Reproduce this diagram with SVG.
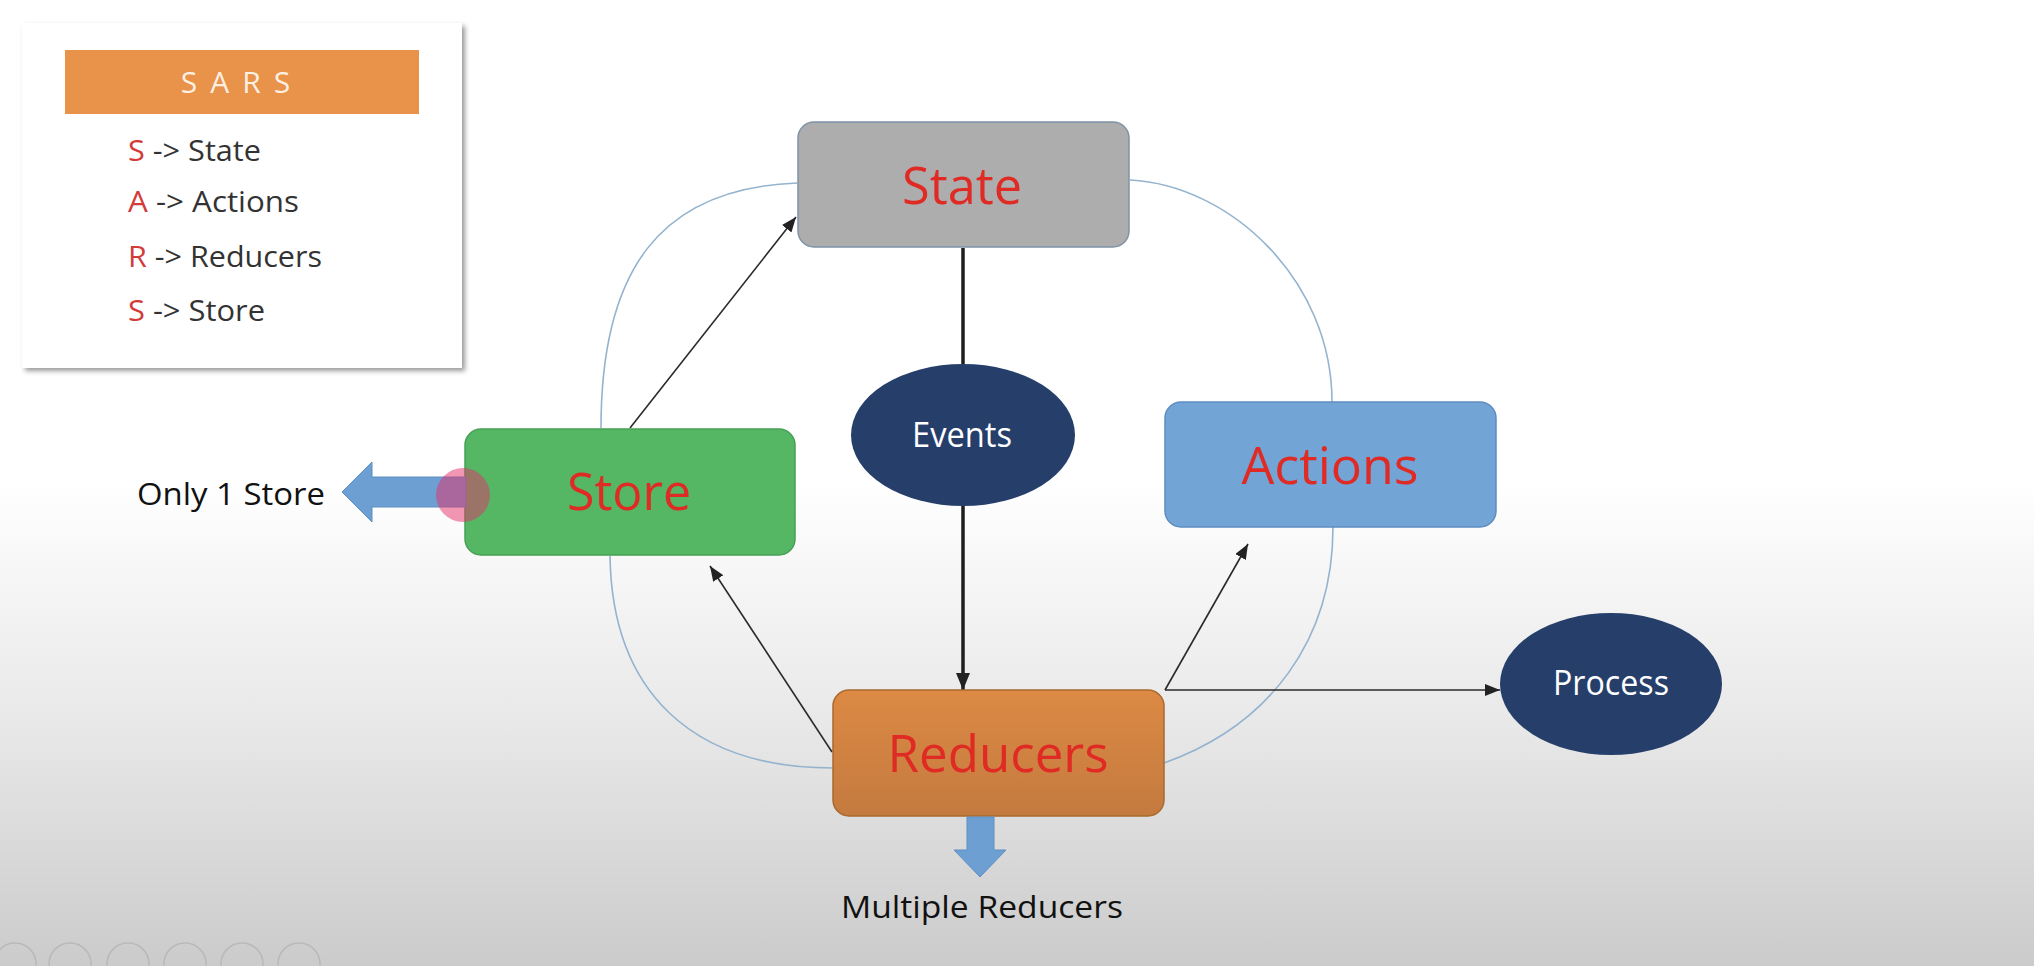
<svg xmlns="http://www.w3.org/2000/svg" width="2034" height="966" viewBox="0 0 2034 966">
  <defs>
    <linearGradient id="bg" x1="0" y1="0" x2="0" y2="1">
      <stop offset="0" stop-color="#ffffff"/>
      <stop offset="0.5" stop-color="#ffffff"/>
      <stop offset="0.75" stop-color="#e8e8e8"/>
      <stop offset="1" stop-color="#cbcbcb"/>
    </linearGradient>
    <linearGradient id="redGrad" x1="0" y1="0" x2="0" y2="1">
      <stop offset="0" stop-color="#dc8a44"/>
      <stop offset="1" stop-color="#c47a3f"/>
    </linearGradient>
    <filter id="shadow" x="-5%" y="-5%" width="115%" height="115%">
      <feDropShadow dx="3" dy="3" stdDeviation="2.5" flood-color="#000" flood-opacity="0.4"/>
    </filter>
    <marker id="arr" markerUnits="userSpaceOnUse" markerWidth="16" markerHeight="12" refX="15" refY="6" orient="auto">
      <path d="M0,0 L15,6 L0,12 z" fill="#222"/>
    </marker>
    <marker id="arrBig" markerUnits="userSpaceOnUse" markerWidth="18" markerHeight="14" refX="17" refY="7" orient="auto">
      <path d="M0,0 L17,7 L0,14 z" fill="#222"/>
    </marker>
    <style>
      .txt { font-family: "Open Sans", "Liberation Sans", sans-serif; }
      .big { font-size: 52px; fill: #e02a24; text-anchor: middle; }
      .ell { fill: #263e6a; }
      .ellTxt { font-size: 34px; fill: #ffffff; text-anchor: middle; }
      .lbl { font-size: 31px; fill: #111; }
      .leg { font-size: 29px; fill: #333; }
      .legL { fill: #d33a3a; }
      .arc { fill: none; stroke: #93b3cf; stroke-width: 1.6; }
      .thin { stroke: #2a2a2a; stroke-width: 1.6; fill: none; }
      .thick { stroke: #1e1e1e; stroke-width: 3.5; fill: none; }
      .block { fill: #6e9fd3; stroke: #5f8fc2; stroke-width: 1; }
    </style>
  </defs>

  <rect x="0" y="0" width="2034" height="966" fill="url(#bg)"/>

  <!-- slideshow controls (faint) -->
  <g id="controls" fill="none" stroke="#b9b9b9" stroke-width="1.5">
    <circle cx="15" cy="964" r="21"/>
    <circle cx="70" cy="964" r="21"/>
    <circle cx="128" cy="964" r="21"/>
    <circle cx="185" cy="964" r="21"/>
    <circle cx="242" cy="964" r="21"/>
    <circle cx="299" cy="964" r="21"/>
  </g>

  <!-- Legend -->
  <g id="legend">
    <rect x="22" y="23" width="440" height="345" fill="#ffffff" filter="url(#shadow)"/>
    <rect x="65" y="50" width="354" height="64" fill="#e8924a"/>
    <text class="txt" x="242" y="93" font-size="30" fill="#fdf0e2" text-anchor="middle" letter-spacing="13">SARS</text>
    <text class="txt leg" x="128" y="161" textLength="133" lengthAdjust="spacingAndGlyphs"><tspan class="legL">S</tspan> -&gt; State</text>
    <text class="txt leg" x="128" y="212" textLength="171" lengthAdjust="spacingAndGlyphs"><tspan class="legL">A</tspan> -&gt; Actions</text>
    <text class="txt leg" x="128" y="267" textLength="194" lengthAdjust="spacingAndGlyphs"><tspan class="legL">R</tspan> -&gt; Reducers</text>
    <text class="txt leg" x="128" y="321" textLength="137" lengthAdjust="spacingAndGlyphs"><tspan class="legL">S</tspan> -&gt; Store</text>
  </g>

  <!-- Cycle arcs and connectors -->
  <g id="connectors">
    <path class="arc" d="M797,183 C660,188 601,270 601,428"/>
    <path class="arc" d="M1130,180 C1230,185 1332,280 1332,402"/>
    <path class="arc" d="M610,556 C612,690 690,768 833,768"/>
    <path class="arc" d="M1333,527 C1333,640 1270,725 1164,763"/>

    <line class="thin" x1="630" y1="428" x2="796" y2="217" marker-end="url(#arr)"/>
    <line class="thin" x1="832" y1="752" x2="710" y2="566" marker-end="url(#arr)"/>
    <line class="thin" x1="1165" y1="690" x2="1248" y2="544" marker-end="url(#arr)"/>
    <line class="thin" x1="1165" y1="690" x2="1500" y2="690" marker-end="url(#arr)"/>
    <line class="thick" x1="963" y1="248" x2="963" y2="364"/>
    <line class="thick" x1="963" y1="505" x2="963" y2="690" marker-end="url(#arrBig)"/>
  </g>

  <!-- State -->
  <g id="state">
    <rect x="798" y="122" width="331" height="125" rx="16" fill="#adadad" stroke="#7f92a8" stroke-width="1.5"/>
    <text class="txt big" x="962" y="204" textLength="120" lengthAdjust="spacingAndGlyphs">State</text>
  </g>

  <!-- Events -->
  <g id="events">
    <ellipse class="ell" cx="963" cy="435" rx="112" ry="71"/>
    <text class="txt ellTxt" x="962" y="447" textLength="100" lengthAdjust="spacingAndGlyphs">Events</text>
  </g>

  <!-- Store -->
  <g id="store">
    <rect x="465" y="429" width="330" height="126" rx="16" fill="#55b664" stroke="#46a055" stroke-width="1.5"/>
    <text class="txt big" x="629" y="510" textLength="124" lengthAdjust="spacingAndGlyphs">Store</text>
  </g>

  <!-- Actions -->
  <g id="actions">
    <rect x="1165" y="402" width="331" height="125" rx="16" fill="#72a4d6" stroke="#5e8dbf" stroke-width="1.5"/>
    <text class="txt big" x="1330" y="484" textLength="177" lengthAdjust="spacingAndGlyphs">Actions</text>
  </g>

  <!-- Reducers -->
  <g id="reducers">
    <rect x="833" y="690" width="331" height="126" rx="16" fill="url(#redGrad)" stroke="#a9692f" stroke-width="1.5"/>
    <text class="txt big" x="998" y="772" textLength="221" lengthAdjust="spacingAndGlyphs">Reducers</text>
  </g>

  <!-- Process -->
  <g id="process">
    <ellipse class="ell" cx="1611" cy="684" rx="111" ry="71"/>
    <text class="txt ellTxt" x="1611" y="695" font-size="32" textLength="116" lengthAdjust="spacingAndGlyphs">Process</text>
  </g>

  <!-- Only 1 Store -->
  <g id="only-one-store">
    <polygon class="block" points="342,492 372,462 372,477 466,477 466,507 372,507 372,522"/>
    <text class="txt lbl" x="137" y="505" textLength="188" lengthAdjust="spacingAndGlyphs">Only 1 Store</text>
  </g>

  <!-- Multiple Reducers -->
  <g id="multiple-reducers">
    <polygon class="block" points="967,817 994,817 994,850 1006,850 980,877 954,850 967,850"/>
    <text class="txt lbl" x="841" y="918" textLength="282" lengthAdjust="spacingAndGlyphs">Multiple Reducers</text>
  </g>

  <!-- pointer highlight -->
  <g id="pointer">
    <circle cx="463" cy="495" r="27" fill="#e3306a" fill-opacity="0.5"/>
  </g>
</svg>
